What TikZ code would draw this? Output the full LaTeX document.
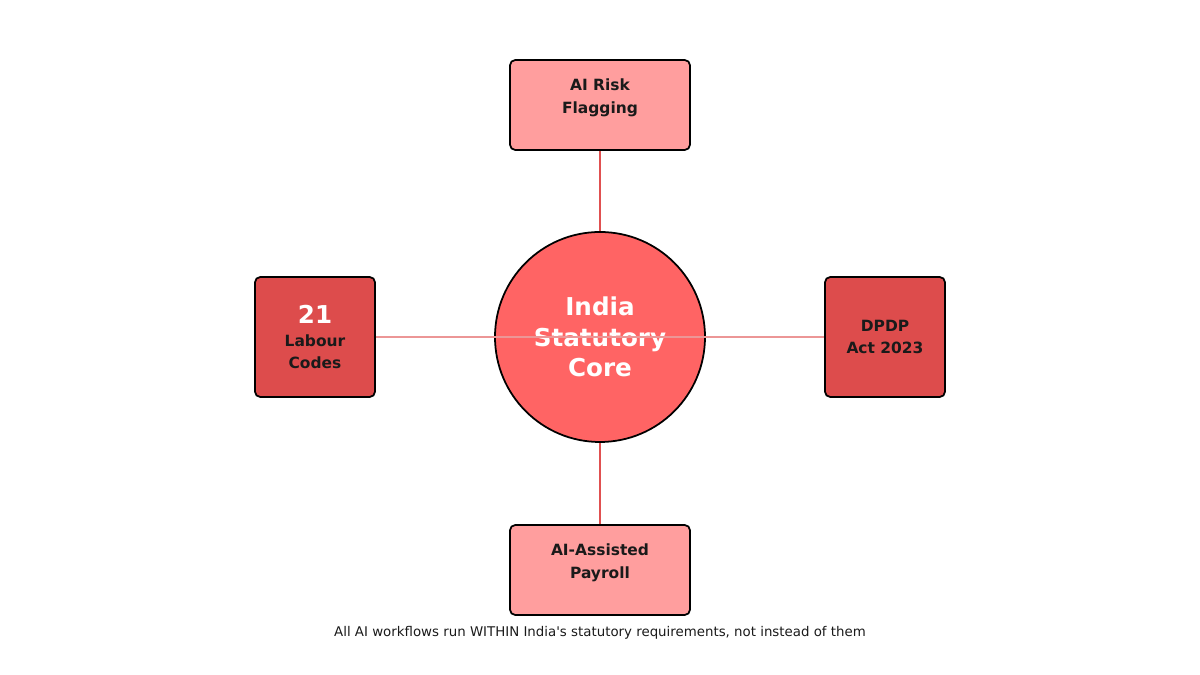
\documentclass[tikz,border=0pt]{standalone}
\usepackage{fontspec}
\setmainfont{DejaVu Sans}
\usepackage{textcomp}
\usetikzlibrary{positioning}
\definecolor{corefill}{HTML}{FF6464}
\definecolor{lightbox}{HTML}{FF9E9E}
\definecolor{darkbox}{HTML}{DD4C4C}
\definecolor{linkred}{HTML}{E05050}
\definecolor{inktext}{HTML}{1A1A1A}
\tikzset{
  core/.style={circle, draw=black, line width=0.5pt, fill=corefill, minimum size=2.1cm,
    text=white, align=center, font=\fontsize{7}{8.6}\selectfont\bfseries},
  outer/.style={rectangle, rounded corners=1.5pt, draw=black, line width=0.5pt, fill=lightbox,
    minimum width=1.8cm, minimum height=0.9cm},
  side/.style={outer, fill=darkbox, minimum width=1.2cm, minimum height=1.2cm},
  boxtext/.style={align=center, text=inktext, font=\fontsize{4.4}{6.5}\selectfont\bfseries},
  link/.style={draw=linkred, line width=0.4pt}
}
\begin{document}
\begin{tikzpicture}
  \useasboundingbox (0,0) rectangle (12,6.75);
  \node [core] (core) at (6,3.38) {India\\Statutory\\Core};
  \node [outer] (risk) at (6,5.70) {};
  \node [boxtext, yshift=0.07cm] at (risk) {AI Risk\\Flagging};
  \node [outer] (payroll) at (6,1.05) {};
  \node [boxtext, yshift=0.07cm] at (payroll) {AI-Assisted\\Payroll};
  \node [side] (labour) at (3.15,3.38) {};
  \node [boxtext] at (labour) {{\fontsize{7}{8}\selectfont\color{white}21}\\Labour\\Codes};
  \node [side] (dpdp) at (8.85,3.38) {};
  \node [boxtext] at (dpdp) {DPDP\\Act 2023};
  \node [text=inktext, font=\fontsize{3.8}{5}\selectfont] (note) at (6,0.42)
     {All AI workflows run WITHIN India\textquotesingle s statutory requirements, not instead of them};

  \path [link] (risk) -- (core);
  \path [link] (payroll) -- (core);
  \path [link, draw=linkred!60] (labour.east) -- (dpdp.west);
\end{tikzpicture}
\end{document}
